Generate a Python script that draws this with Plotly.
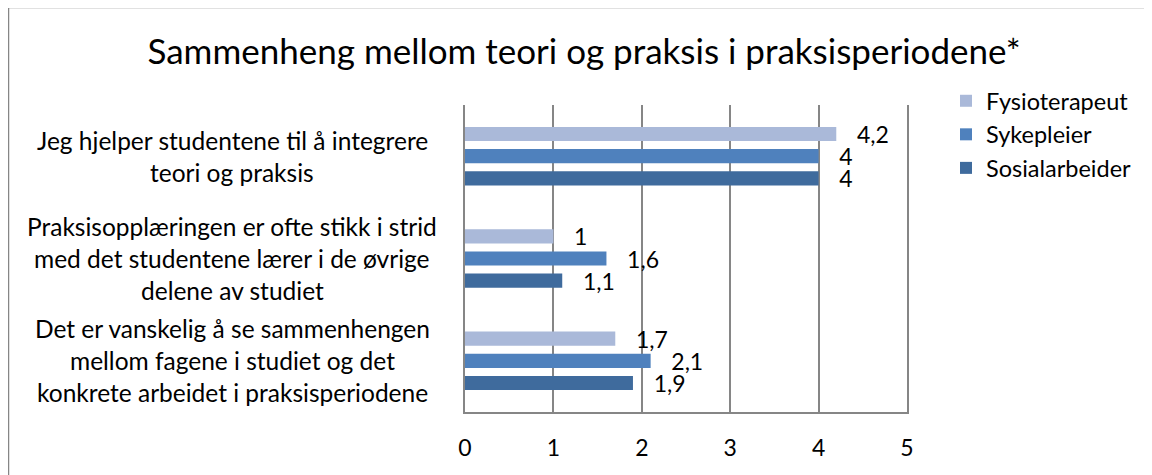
import plotly.graph_objects as go

categories = [
    "Jeg hjelper studentene til å integrere<br>teori og praksis",
    "Praksisopplæringen er ofte stikk i strid<br>med det studentene lærer i de øvrige<br>delene av studiet",
    "Det er vanskelig å se sammenhengen<br>mellom fagene i studiet og det<br>konkrete arbeidet i praksisperiodene",
]
series_names = ["Fysioterapeut", "Sykepleier", "Sosialarbeider"]
fysio = [4.2, 1.0, 1.7]
syke = [4.0, 1.6, 2.1]
sosial = [4.0, 1.1, 1.9]
x_ticks = [0, 1, 2, 3, 4, 5]
colors = ["#AAB9D9", "#4F81BD", "#3F6B9D"]

FONT = "Lato"

def fmt(v):
    s = ("%.1f" % v).rstrip("0").rstrip(".")
    return s.replace(".", ",")

fig = go.Figure()
for name, vals, col in zip(series_names, [fysio, syke, sosial], colors):
    fig.add_trace(go.Bar(
        y=categories, x=vals, name=name, orientation="h",
        marker=dict(color=col, line=dict(width=0)),
        text=[fmt(v) for v in vals],
        texttemplate="\u00a0\u00a0\u00a0%{text}",
        textposition="outside",
        constraintext="none",
        textfont=dict(family=FONT, size=23, color="black"),
        cliponaxis=False,
    ))

# page body has an 8px margin: work in reference pixels minus 8
OFF = 8
W, H = 1152 - OFF, 475 - OFF
L = 465 - OFF
R = W - (907 - OFF)
T = 105 - OFF
B = H - (412 - OFF)
pw, ph = W - L - R, H - T - B

def px_x(px):
    return (px - OFF - L) / pw

def px_y(py):
    return (H - B - (py - OFF)) / ph

annotations = []
for cat in categories:
    lines = cat.split("<br>")
    n = len(lines)
    for i, line in enumerate(lines):
        annotations.append(dict(
            text=line, x=px_x(232), xref="paper", y=cat, yref="y",
            yshift=(n - 1) / 2 * 32 - i * 32,
            xanchor="center", yanchor="middle", showarrow=False,
            font=dict(family=FONT, size=24.5, color="black"),
        ))

fig.update_layout(
    width=W, height=H,
    margin=dict(l=L, r=R, t=T, b=B),
    paper_bgcolor="white", plot_bgcolor="white",
    barmode="group", bargap=0.35, bargroupgap=0.36,
    title=dict(text="Sammenheng mellom teori og praksis i praksisperiodene*",
               x=(584 - OFF) / W, xanchor="center",
               y=1 - (52 - OFF) / H, yanchor="middle",
               font=dict(family=FONT, size=35, color="black")),
    legend=dict(x=px_x(946), y=px_y(79), xanchor="left", yanchor="top",
                font=dict(family=FONT, size=23.5, color="black"),
                traceorder="normal", itemwidth=30, tracegroupgap=0),
    xaxis=dict(range=[0, 5], tickvals=x_ticks, ticktext=[str(t) for t in x_ticks],
               showgrid=True, gridcolor="#868686", gridwidth=1.5,
               showline=True, linecolor="#868686", linewidth=1.5,
               ticks="", ticklabelstandoff=15, zeroline=False,
               tickfont=dict(family=FONT, size=23, color="black")),
    yaxis=dict(autorange="reversed", showticklabels=False, showgrid=False,
               showline=True, linecolor="#868686", linewidth=1.5, mirror=True,
               ticks=""),
    annotations=annotations,
    shapes=[dict(type="rect", xref="paper", yref="paper",
                 x0=px_x(8.5), x1=px_x(1175), y0=px_y(490), y1=px_y(7.5),
                 line=dict(color="#868686", width=1.5), fillcolor="rgba(0,0,0,0)",
                 layer="below")],
    showlegend=True,
)

fig.write_html("out.html")
